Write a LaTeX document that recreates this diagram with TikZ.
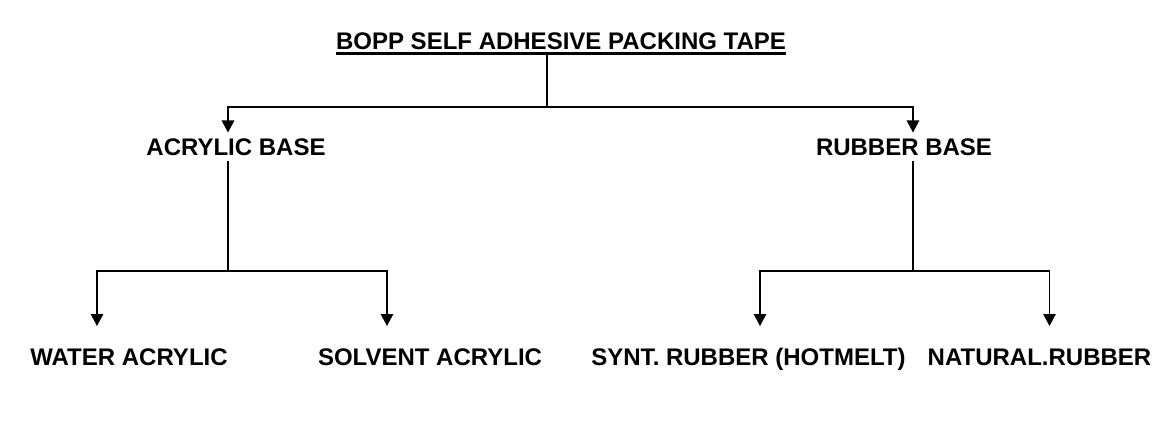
\documentclass[tikz,border=0pt]{standalone}
\usepackage{fontspec}
\setmainfont{Liberation Sans}
\usetikzlibrary{arrows.meta,positioning}

\begin{document}
\begin{tikzpicture}[x=1pt,y=-1pt,
  lbl/.style={anchor=base,inner sep=0pt,outer sep=0pt,text height=16.5pt,text depth=4pt,
    font=\fontsize{24pt}{28pt}\selectfont\bfseries},
  conn/.style={draw=black,line width=1.3pt},
  arr/.style={conn,-{Triangle[width=12.5pt,length=12pt]}}]
\useasboundingbox (0,0) rectangle (1165,422);
\node [lbl] (title) at (561,49.5) {BOPP SELF ADHESIVE PACKING TAPE};
\node [lbl] (acrylic) at (236,156) {ACRYLIC BASE};
\node [lbl] (rubber) at (904,156) {RUBBER BASE};
\node [lbl] (water) at (129,365.5) {WATER ACRYLIC};
\node [lbl] (solvent) at (430,365.5) {SOLVENT ACRYLIC};
\node [lbl] (synt) at (748.5,365.5) {SYNT. RUBBER (HOTMELT)};
\node [lbl] (natural) at (1039.5,365.5) {NATURAL.RUBBER};
\coordinate (j0) at (547,107);
\coordinate (j1) at (228,271);
\coordinate (j2) at (913,271);
\draw [black,line width=2.6pt] ([yshift=-4pt]title.base west) -- ([yshift=-4pt]title.base east);
\draw [conn] ([yshift=-5.5pt]title.base -| j0) -- (j0);
\draw [arr,shorten >=7pt] (j0) -| (acrylic.north -| j1);
\draw [arr,shorten >=7pt] (j0) -| (rubber.north -| j2);
\draw [conn,shorten <=1.5pt] (acrylic.south -| j1) -- (j1);
\draw [conn,shorten <=1.5pt] (rubber.south -| j2) -- (j2);
\draw [arr,shorten >=23pt] (j1) -| ([xshift=-32pt]water.north);
\draw [arr,shorten >=23pt] (j1) -| ([xshift=-43pt]solvent.north);
\draw [arr,shorten >=23pt] (j2) -| ([xshift=11.5pt]synt.north);
\draw [arr,shorten >=23pt] (j2) -| ([xshift=10pt]natural.north);
\end{tikzpicture}
\end{document}
